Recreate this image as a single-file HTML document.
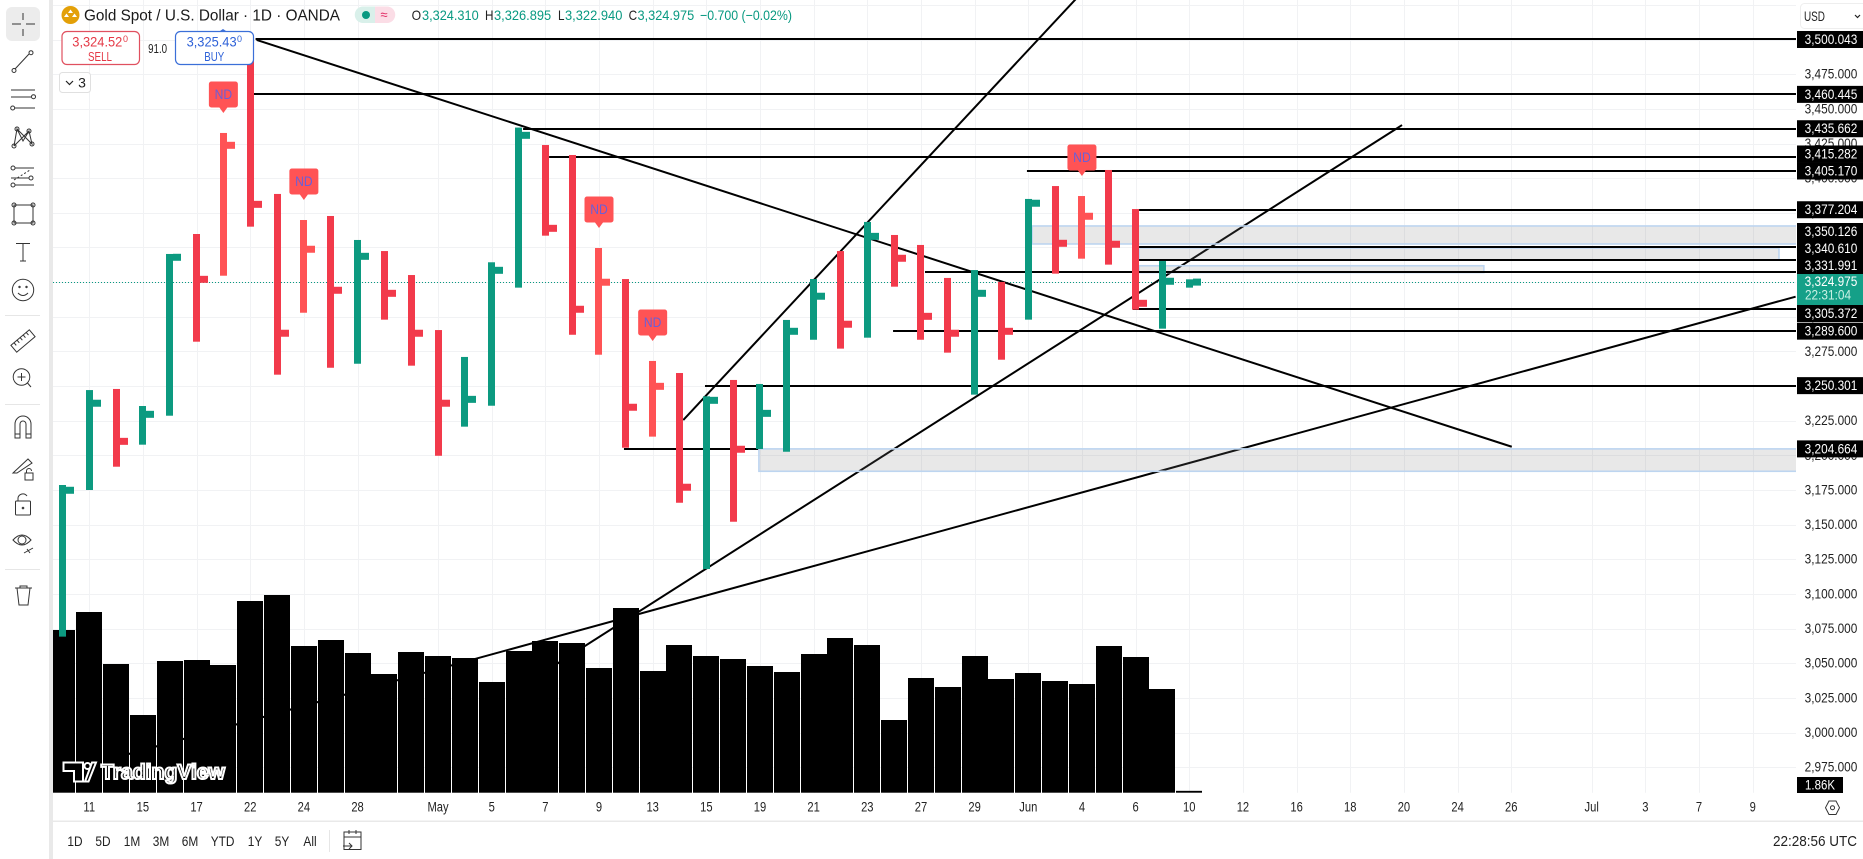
<!DOCTYPE html>
<html lang="en">
<head>
<meta charset="utf-8">
<title>Gold Spot / U.S. Dollar 1D chart</title>
<style>
html,body{margin:0;padding:0;background:#fff;width:1863px;height:859px;overflow:hidden}
svg{display:block;font-family:"Liberation Sans",Arial,sans-serif}
.ic{fill:none;stroke:#333;stroke-width:1}
</style>
</head>
<body>
<svg id="chart" xmlns="http://www.w3.org/2000/svg" width="1863" height="859" viewBox="0 0 1863 859">
  <defs><clipPath id="pane-clip"><rect x="53" y="0" width="1743" height="793"/></clipPath></defs>
  <rect x="0" y="0" width="1863" height="859" fill="#fff"/>
  <g id="pane" clip-path="url(#pane-clip)"></g>
  <g id="axis-labels"></g>
  <g id="time-labels"></g>

  <!-- left toolbar -->
  <g>
    <rect x="0" y="0" width="49" height="859" fill="#fff"/>
    <rect x="49" y="0" width="4" height="859" fill="#e9e9e9"/>
    <g>
      <rect x="6" y="7" width="34" height="34" rx="6" fill="#ececec"/>
      <path class="ic" d="M23 13V20M23 29V36M12 24H21M26 24H35"/>
    </g>
    <g class="ic"><path d="M15 69L29 54"/><circle cx="14" cy="70.5" r="2"/><circle cx="31" cy="52.7" r="2"/></g>
    <g class="ic"><path d="M11 90H35M11 97H31M15 108H35"/><circle cx="33.5" cy="96.7" r="2"/><circle cx="12.7" cy="108" r="2"/></g>
    <g class="ic"><path d="M14 146L17 129L23 141L29 131L32 144L17 129M14 146L29 131"/><circle cx="14" cy="146" r="2"/><circle cx="17" cy="129" r="2"/><circle cx="29" cy="131" r="2"/><circle cx="32" cy="144" r="2"/></g>
    <g class="ic"><path d="M15 168H34M11 178H29M15 185H34"/><path d="M14 180L30 170" stroke-dasharray="2 2"/><circle cx="13" cy="168" r="2"/><circle cx="31" cy="178" r="2"/><circle cx="13" cy="185" r="2"/></g>
    <g class="ic"><rect x="14" y="205" width="19" height="18"/><circle cx="14" cy="205" r="2"/><circle cx="33" cy="205" r="2"/><circle cx="14" cy="223" r="2"/><circle cx="33" cy="223" r="2"/></g>
    <g class="ic"><path d="M16 243.5H30M23 243.5V261M20 261H26"/></g>
    <g class="ic"><circle cx="23" cy="290" r="10.7"/><path d="M18 293Q23 298 28 293"/><circle cx="19.5" cy="287" r=".7"/><circle cx="26.5" cy="287" r=".7"/></g>
    <rect x="5" y="315" width="35" height="1" fill="#e6e6e6"/>
    <g class="ic" transform="rotate(-40 23 341)"><rect x="11" y="336.5" width="24" height="9"/><path d="M15 336.5V340M19 336.5V340M23 336.5V340M27 336.5V340M31 336.5V340"/></g>
    <g class="ic"><circle cx="21.5" cy="377" r="8.3"/><path d="M17.5 377H25.5M21.5 373V381M27.5 383L31 387"/></g>
    <rect x="5" y="404" width="35" height="1" fill="#e6e6e6"/>
    <g class="ic"><path d="M15 438V424a8 8 0 0 1 16 0V438H26V424a3 3 0 0 0-6 0V438ZM15 434H20M26 434H31"/></g>
    <g class="ic"><path d="M13 473L28 459L32 463L17 473Z"/><rect x="25" y="473" width="8" height="7"/><path d="M26.5 473V471a2.5 2.5 0 0 1 5 0"/></g>
    <g class="ic"><rect x="15.5" y="501" width="15" height="14" rx="1"/><path d="M18 501V498a5 5 0 0 1 9-2"/><circle cx="23" cy="508" r=".8"/></g>
    <g class="ic"><path d="M13 540Q22 530 31 540Q22 550 13 540Z"/><circle cx="22" cy="540" r="4"/><path d="M24 553L33 548M27 549L30 553"/></g>
    <rect x="5" y="569" width="35" height="1" fill="#e6e6e6"/>
    <g class="ic"><path d="M15 588H32M17 588L19 605H28L30 588M20 588V586H27V588"/></g>
  </g>

  <!-- header -->
  <g>
    <circle cx="70.5" cy="15" r="9" fill="#e3a008"/>
    <path d="M70.5 9.5l2.5 3.5h-5ZM66.5 13.5l2.5 3.5h-5ZM74.5 13.5l2.5 3.5h-5Z" fill="#fff"/>
    <text x="84" y="20.5" font-size="15.5" fill="#1a1a1a" textLength="256" lengthAdjust="spacingAndGlyphs">Gold Spot / U.S. Dollar · 1D · OANDA</text>
    <g>
      <path d="M363 6.500H375V23H363a8 8 0 0 1 0-16.500Z" fill="#d9f0ea"/>
      <path d="M375 6.500H387a8 8 0 0 1 0 16.500H375Z" fill="#fbdde6"/>
      <circle cx="366" cy="15" r="4" fill="#089981"/>
      <text x="384" y="19" font-size="13" fill="#e0245e" text-anchor="middle">≈</text>
    </g>
    <text x="411.600" y="20" font-size="14" fill="#222" textLength="9.500" lengthAdjust="spacingAndGlyphs">O</text>
    <text x="422" y="20" font-size="14" fill="#089981" textLength="56.700" lengthAdjust="spacingAndGlyphs">3,324.310</text>
    <text x="485" y="20" font-size="14" fill="#222" textLength="8.500" lengthAdjust="spacingAndGlyphs">H</text>
    <text x="494" y="20" font-size="14" fill="#089981" textLength="57.200" lengthAdjust="spacingAndGlyphs">3,326.895</text>
    <text x="558" y="20" font-size="14" fill="#222" textLength="6.500" lengthAdjust="spacingAndGlyphs">L</text>
    <text x="565" y="20" font-size="14" fill="#089981" textLength="57.400" lengthAdjust="spacingAndGlyphs">3,322.940</text>
    <text x="628.600" y="20" font-size="14" fill="#222" textLength="8.500" lengthAdjust="spacingAndGlyphs">C</text>
    <text x="637.500" y="20" font-size="14" fill="#089981" textLength="56.700" lengthAdjust="spacingAndGlyphs">3,324.975</text>
    <text x="700" y="20" font-size="14" fill="#089981" textLength="92" lengthAdjust="spacingAndGlyphs">−0.700 (−0.02%)</text>

    <g>
      <rect x="62" y="31.500" width="77.500" height="33" rx="5" fill="#fff" stroke="#e0505f" stroke-width="1.200"/>
      <text x="72.300" y="46.500" font-size="14" fill="#e53946" textLength="50" lengthAdjust="spacingAndGlyphs">3,324.52</text>
      <text x="123" y="42" font-size="9" fill="#e53946">0</text>
      <text x="100" y="61" font-size="13" fill="#e53946" text-anchor="middle" textLength="24" lengthAdjust="spacingAndGlyphs">SELL</text>
    </g>
    <text x="157.600" y="53" font-size="12.500" fill="#222" text-anchor="middle" textLength="19" lengthAdjust="spacingAndGlyphs">91.0</text>
    <g>
      <path d="M220 31l3-2 3 2Z" fill="#3b6fd8"/>
      <rect x="175.500" y="31.500" width="78" height="33" rx="5" fill="#fff" stroke="#3b6fd8" stroke-width="1.200"/>
      <text x="186.600" y="46.500" font-size="14" fill="#2f62d8" textLength="50" lengthAdjust="spacingAndGlyphs">3,325.43</text>
      <text x="237" y="42" font-size="9" fill="#2f62d8">0</text>
      <text x="214.300" y="61" font-size="13" fill="#2f62d8" text-anchor="middle" textLength="20" lengthAdjust="spacingAndGlyphs">BUY</text>
    </g>
    <g>
      <rect x="59.500" y="72.500" width="31" height="20" rx="3" fill="#fff" stroke="#e0e0e0"/>
      <path d="M66 81l3.500 3.500L73 81" fill="none" stroke="#222" stroke-width="1.200"/>
      <text x="82" y="87.500" font-size="14" fill="#222" text-anchor="middle">3</text>
    </g>
    <g>
      <rect x="1800.500" y="3.500" width="66" height="25" rx="4" fill="#fff" stroke="#eeeeee"/>
      <text x="1804" y="21" font-size="13.500" fill="#222" textLength="21" lengthAdjust="spacingAndGlyphs">USD</text>
      <path d="M1855 15l2.500 2.500L1860 15" fill="none" stroke="#222" stroke-width="1.200"/>
    </g>
  </g>

  <!-- bottom bar -->
  <g>
    <rect x="53" y="820.500" width="1810" height="1.500" fill="#e9e9e9"/>
    <rect x="329" y="830" width="1" height="22" fill="#e6e6e6"/>
    <g class="ic"><rect x="344" y="832" width="17" height="17.500"/><path d="M344 837H361M349 830V834M356 830V834M343 846H352M349 843L352 846L349 849"/></g>
    <text x="1857" y="846" font-size="14.500" fill="#222" text-anchor="end" textLength="84" lengthAdjust="spacingAndGlyphs">22:28:56 UTC</text>
    <g class="ic"><path d="M1825.500 807.700L1829 801H1836L1839.500 807.700L1836 814.500H1829Z"/><circle cx="1832.500" cy="807.700" r="2"/></g>
  </g>
  <g id="ranges"></g>
</svg>
<script>
// ---- chart data (prices) ----
const barDates = ['Apr 10','Apr 11','Apr 14','Apr 15','Apr 16','Apr 17','Apr 21','Apr 22','Apr 23','Apr 24','Apr 25','Apr 28','Apr 29','Apr 30','May 1','May 2','May 5','May 6','May 7','May 8','May 9','May 12','May 13','May 14','May 15','May 16','May 19','May 20','May 21','May 22','May 23','May 26','May 27','May 28','May 29','May 30','Jun 2','Jun 3','Jun 4','Jun 5','Jun 6','Jun 9','Jun 10'];
const highs = [3178.6,3247.1,3247.9,3235.6,3345.3,3359.7,3432.6,3500.0,3388.6,3369.8,3372.7,3355.4,3347.4,3330.1,3290.4,3271.0,3339.3,3436.5,3423.9,3416.7,3349.6,3327.2,3268.1,3259.4,3242.6,3254.4,3251.5,3297.7,3327.2,3347.4,3368.4,3359.0,3351.8,3328.0,3333.7,3325.1,3385.0,3394.3,3387.1,3405.9,3377.7,3340.2,3327.0];
const lows = [3069.2,3175.0,3191.8,3207.7,3228.6,3282.0,3329.6,3365.0,3258.2,3302.9,3263.2,3266.1,3297.9,3264.7,3199.7,3220.7,3235.8,3321.0,3358.5,3287.0,3272.6,3205.5,3213.5,3165.8,3118.0,3152.1,3204.6,3202.6,3283.4,3277.0,3284.9,3321.7,3283.4,3274.1,3243.8,3269.0,3297.9,3331.1,3341.9,3337.6,3305.1,3291.4,3321.0];
const closes = [3174.8,3237.6,3210.1,3229.6,3342.9,3327.0,3423.7,3381.1,3288.1,3348.7,3319.1,3343.6,3316.9,3288.1,3237.6,3240.4,3333.5,3430.9,3363.8,3305.4,3324.9,3234.7,3249.8,3177.0,3239.7,3204.4,3230.3,3289.5,3314.8,3294.6,3358.0,3342.2,3300.3,3288.1,3316.9,3289.5,3381.9,3353.0,3372.5,3352.3,3309.7,3325.6,3325.0];
const barDirections = ['up','up','down','up','up','down','down','down','down','down','down','up','down','down','down','up','up','up','down','down','down','down','down','down','up','down','up','up','up','down','up','down','down','down','up','down','up','down','down','down','down','up','up'];
const volumesK = [162.7,180.7,128.7,77.7,131.7,132.7,127.7,191.7,197.7,146.7,152.7,139.7,118.7,140.7,136.7,134.7,110.7,141.7,151.7,149.7,124.7,184.7,121.7,147.7,136.7,133.7,126.7,120.7,138.7,154.7,147.7,72.7,114.7,105.7,136.7,113.7,119.7,111.7,108.7,146.7,135.7,103.7,1.86];
const ndSignalBars = [6,9,20,22,38];

const priceTicks = [3500,3475,3450,3425,3400,3375,3350,3325,3300,3275,3250,3225,3200,3175,3150,3125,3100,3075,3050,3025,3000,2975];
const gridExtraPrices = [3525];
const timeTickBars = [1,3,5,7,9,11,14,16,18,20,22,24,26,28,30,32,34,36,38,40,42,44,46,48,50,52,54,57,59,61,63];
const timeTickLabels = ['11','15','17','22','24','28','May','5','7','9','13','15','19','21','23','27','29','Jun','4','6','10','12','16','18','20','24','26','Jul','3','7','9'];
const rangeLabels = ['1D','5D','1M','3M','6M','YTD','1Y','5Y','All'];

const levelPrices = [3500.043,3460.445,3435.662,3415.282,3405.170,3377.204,3350.126,3340.610,3331.991,3305.372,3289.600,3250.301,3204.664];
const levelStartBars = [7.2,7.1,17.17,18.14,35.95,40.13,40.13,40.13,32.15,39.9,30.96,23.95,20.93];
const levelEndBars = [null,null,null,null,null,null,null,null,null,null,null,null,25.93];

const trendStartBars = [7.24,23.14,17.43,2.33];
const trendStartPrices = [3499.7,3225.5,3037.2,2983.8];
const trendEndBars = [54.02,39.13,49.93,64.6];
const trendEndPrices = [3206.2,3557.4,3438.3,3314.5];

const zoneStartBars = [25.96,36.14,40.13,40.13];
const zoneEndBars = [null,null,63.98,52.98];
const zoneTopPrices = [3204.664,3365.5,3349.6,3336.8];
const zoneBottomPrices = [3188.5,3352.5,3340.9,3331.9];

const lastPrice = 3324.975;
const countdownLabel = '22:31:04';
const lastVolumeLabel = '1.86K';

// ---- axis functions ----
const PANE_L = 53, PANE_R = 1796, VOL_BASE = 792.7;
function xOf(bar){ return 62.4 + 26.83 * bar; }
function yOf(price){ return 74.2 + (3475 - price) * 1.386; }
function volY(k){ return VOL_BASE - k; }

const NS = 'http://www.w3.org/2000/svg';
function make(parent, tag, attrs){
  const el = document.createElementNS(NS, tag);
  for (const k in attrs) el.setAttribute(k, attrs[k]);
  parent.appendChild(el);
  return el;
}
function squeezedText(parent, x, y, str, size, fill, sx, anchor){
  const el = make(parent, 'text', {transform:'translate(' + x + ' ' + y + ') scale(' + sx + ' 1)', 'font-size':size, fill:fill, 'text-anchor':anchor || 'middle'});
  el.textContent = str;
  return el;
}
function fmt(p){
  const s = p.toFixed(3), parts = s.split('.');
  return parts[0].replace(/\B(?=(\d{3})+$)/g, ',') + '.' + parts[1];
}

const pane = document.getElementById('pane');
const axisG = document.getElementById('axis-labels');
const timeG = document.getElementById('time-labels');
const rangeG = document.getElementById('ranges');

// grid
const GRID = '#f1f2f4';
priceTicks.concat(gridExtraPrices).forEach(function(p){
  const py = Math.round(yOf(p)) + 0.5;
  const l = make(pane, 'line', {x1:PANE_L, x2:PANE_R, y1:py, y2:py, stroke:GRID, 'stroke-width':1});
  
  
});
timeTickBars.forEach(function(b){
  const px = Math.round(xOf(b)) + 0.5;
  const l = make(pane, 'line', {x1:px, x2:px, y1:0, y2:VOL_BASE, stroke:GRID, 'stroke-width':1});
  
  
});

// volume
volumesK.forEach(function(v, i){
  const px = Math.round(xOf(i) - 13);
  const r = make(pane, 'rect', {x:px, y:volY(v), width:26, height:VOL_BASE - volY(v), fill:'#000'});
  
  
});

// last price line
const lastY = Math.round(yOf(lastPrice)) + 0.5;
const priceLine = make(pane, 'line', {x1:PANE_L, x2:PANE_R, y1:lastY, y2:lastY, stroke:'#089981', 'stroke-width':1, 'stroke-dasharray':'1 2'});



// trend lines
trendStartBars.forEach(function(b, i){
  const l = make(pane, 'line', {x1:xOf(b), y1:yOf(trendStartPrices[i]), x2:xOf(trendEndBars[i]), y2:yOf(trendEndPrices[i]), stroke:'#000', 'stroke-width':2});
  
  
});

// zones
zoneStartBars.forEach(function(b, i){
  const x1 = xOf(b);
  const x2 = zoneEndBars[i] === null ? PANE_R + 3 : xOf(zoneEndBars[i]);
  const y1 = yOf(zoneTopPrices[i]), y2 = yOf(zoneBottomPrices[i]);
  const r = make(pane, 'rect', {x:x1, y:y1, width:x2 - x1, height:y2 - y1, fill:'rgba(128,128,128,0.18)', stroke:'#bdd5f0', 'stroke-width':1.6});
  
  
});

// horizontal levels
levelPrices.forEach(function(p, i){
  const ly = Math.round(yOf(p));
  const x1 = xOf(levelStartBars[i]);
  const x2 = levelEndBars[i] === null ? PANE_R : xOf(levelEndBars[i]);
  const l = make(pane, 'line', {x1:x1, x2:x2, y1:ly, y2:ly, stroke:'#000', 'stroke-width':2});
  
  
});

// price bars
const COLORS = {up:'#0c9a80', down:'#f23a4b', nd:'#ff5355'};
highs.forEach(function(h, i){
  const isNd = ndSignalBars.indexOf(i) >= 0;
  const color = isNd ? COLORS.nd : COLORS[barDirections[i]];
  const left = Math.round(xOf(i) - 3.5);
  const g = make(pane, 'g', {});
  
  
  const stem = make(g, 'rect', {x:left, y:yOf(h), width:7, height:yOf(lows[i]) - yOf(h), fill:color});
  
  
  const tick = make(g, 'rect', {x:left + 7, y:yOf(closes[i]) - 3.5, width:8, height:7, fill:color});
  
  
});

// ND flags
ndSignalBars.forEach(function(b){
  const cx = xOf(b), tip = yOf(highs[b]) - 19;
  const g = make(pane, 'g', {});
  
  
  make(g, 'path', {d:'M' + (cx - 14.5) + ' ' + (tip - 30) + 'a2.5 2.5 0 0 1 2.5-2.5h24a2.5 2.5 0 0 1 2.5 2.5v21a2.5 2.5 0 0 1-2.5 2.5h-8l-4 5.500-4-5.500h-8a2.500 2.500 0 0 1-2.500-2.500Z', fill:'#ff5355'});
  const t = squeezedText(g, cx, tip - 15, 'ND', 13.5, '#6a5fd8', 0.9);
  
  
});

// TradingView watermark
const wm = make(pane, 'g', {});


make(wm, 'path', {d:'M63.500 762.500H83V781.500H74V771H63.500ZM85 781.500L92 762.500H96L88.500 781.500Z', fill:'#000', stroke:'#fff', 'stroke-width':2});
make(wm, 'circle', {cx:87.5, cy:766, r:3, fill:'#000', stroke:'#fff', 'stroke-width':2});
const wmText = make(wm, 'text', {x:101, y:779, 'font-size':21, 'font-weight':'bold', fill:'#000', stroke:'#fff', 'stroke-width':2, textLength:124, lengthAdjust:'spacingAndGlyphs'});
wmText.textContent = 'TradingView';

// price axis tick labels
priceTicks.forEach(function(p){
  const t = squeezedText(axisG, 1831, yOf(p) + 4.4, fmt(p), 14, '#222', 0.846);
  
  
});

// level tags, stacked around the current-price box
const BOX_TOP = 274, BOX_BOTTOM = 305, TAG_H = 17;
const tagCentres = levelPrices.map(yOf);
let upperBound = BOX_TOP, lowerBound = BOX_BOTTOM;
levelPrices.map(function(p, i){ return i; }).filter(function(i){ return levelPrices[i] > lastPrice; }).sort(function(a, b){ return levelPrices[a] - levelPrices[b]; }).forEach(function(i){
  tagCentres[i] = Math.min(tagCentres[i], upperBound - TAG_H / 2);
  upperBound = tagCentres[i] - TAG_H / 2;
});
levelPrices.map(function(p, i){ return i; }).filter(function(i){ return levelPrices[i] < lastPrice; }).sort(function(a, b){ return levelPrices[b] - levelPrices[a]; }).forEach(function(i){
  tagCentres[i] = Math.max(tagCentres[i], lowerBound + TAG_H / 2);
  lowerBound = tagCentres[i] + TAG_H / 2;
});
levelPrices.forEach(function(p, i){
  const c = tagCentres[i];
  const g = make(axisG, 'g', {});
  
  
  make(g, 'rect', {x:1797, y:c - TAG_H / 2, width:66, height:TAG_H, fill:'#000'});
  squeezedText(g, 1831, c + 4.4, fmt(p), 14, '#fff', 0.846);
});

// current price box
const cur = make(axisG, 'g', {});


make(cur, 'rect', {x:1797, y:BOX_TOP, width:66, height:BOX_BOTTOM - BOX_TOP, fill:'#15a088'});
squeezedText(cur, 1831, 286, fmt(lastPrice), 14, '#fff', 0.846);
squeezedText(cur, 1828, 299.5, countdownLabel, 14, '#c9f0e4', 0.846);

// volume tag
const volTag = make(axisG, 'g', {});


make(volTag, 'rect', {x:1797, y:777, width:46, height:16, fill:'#000'});
squeezedText(volTag, 1820, 789.5, lastVolumeLabel, 13.5, '#fff', 0.85);

// time axis
timeTickBars.forEach(function(b, i){
  const label = timeTickLabels[i];
  const t = squeezedText(timeG, xOf(b), 811.5, label, 14, '#222', 0.8);
  
  
});

// range buttons
const rangeCentres = [75,103,132,161,190,222.6,255,282,310];
rangeLabels.forEach(function(label, i){
  const t = squeezedText(rangeG, rangeCentres[i], 846, label, 14, '#222', 0.85);
  
  
});
</script>
</body>
</html>
